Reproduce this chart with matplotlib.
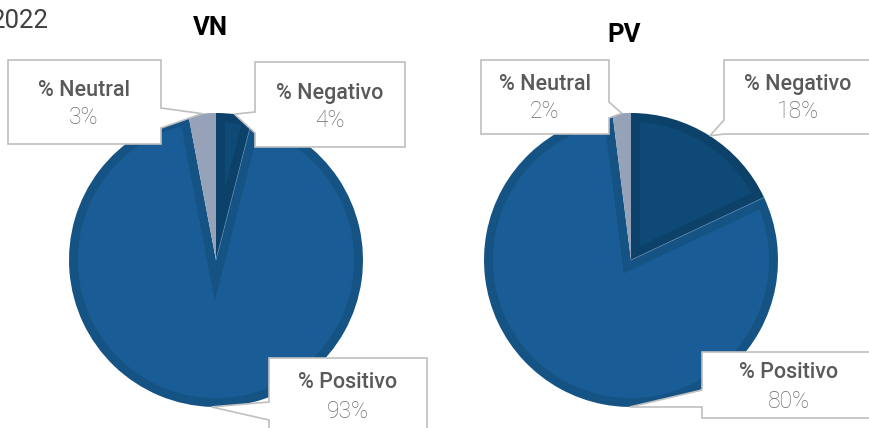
import numpy as np
import matplotlib
matplotlib.use("Agg")
import matplotlib.pyplot as plt
from matplotlib.patches import Polygon

plt.rcParams['font.family'] = ['Roboto', 'DejaVu Sans']

# ---- data ----
categories = ["% Negativo", "% Positivo", "% Neutral"]
vn_values = [4, 93, 3]
pv_values = [18, 80, 2]
titles = ["VN", "PV"]
year_label = "2022"

face_colors = ["#0f4a77", "#1a5d96", "#95a2b7"]
bevel_colors = ["#0c4169", "#155385", "#95a2b7"]

W, H = 870, 428
fig = plt.figure(figsize=(W / 100, H / 100), dpi=100)

R_PX = 147
BEVEL = 9 / 147.0


def make_pie_axes(cx, cy):
    return fig.add_axes([(cx - R_PX) / W, (H - cy - R_PX) / H,
                         2 * R_PX / W, 2 * R_PX / H])


def draw_pie(ax, values):
    wedges, _ = ax.pie(values, colors=bevel_colors, startangle=90,
                       counterclock=False, radius=1.0,
                       wedgeprops=dict(linewidth=0))
    for w, fc in zip(wedges, face_colors):
        t1, t2 = np.radians(w.theta1), np.radians(w.theta2)
        span = t2 - t1
        mid = (t1 + t2) / 2
        apex_d = BEVEL / np.sin(span / 2)
        rin = 1.0 - BEVEL
        if apex_d >= rin:
            continue
        apex = (apex_d * np.cos(mid), apex_d * np.sin(mid))
        da = np.arcsin(BEVEL / rin)
        angs = np.linspace(t1 + da, t2 - da, 200)
        pts = [apex] + [(rin * np.cos(a), rin * np.sin(a)) for a in angs]
        ax.add_patch(Polygon(pts, closed=True, facecolor=fc, edgecolor='none', zorder=3))
    # faint highlight along the Negativo/Positivo boundary
    b = np.radians(wedges[0].theta1)
    ax.plot([0, np.cos(b)], [0, np.sin(b)], color='#5d86ad', lw=0.6, alpha=0.7, zorder=4)
    ax.set_xlim(-1, 1)
    ax.set_ylim(-1, 1)
    ax.set_aspect('equal')
    ax.axis('off')
    return wedges


ax_vn = make_pie_axes(216, 260)
ax_pv = make_pie_axes(631, 260)
w_vn = draw_pie(ax_vn, vn_values)
w_pv = draw_pie(ax_pv, pv_values)

# overlay axes in pixel coords
ov = fig.add_axes([0, 0, 1, 1], zorder=10)
ov.set_xlim(0, W)
ov.set_ylim(H, 0)
ov.axis('off')


def rim_point(ax, wedge, angle=None):
    if angle is None:
        angle = (wedge.theta1 + wedge.theta2) / 2
    a = np.radians(angle)
    disp = ax.transData.transform((np.cos(a), np.sin(a)))
    return ov.transData.inverted().transform(disp)


def callout(box, side, b1, b2, tip, label, value, tx, ly, vy):
    x0, y0, x1, y1 = box
    if side == 'right':
        pts = [(x0, y0), (x1, y0), (x1, b1), tuple(tip), (x1, b2), (x1, y1), (x0, y1)]
    else:
        pts = [(x0, y0), (x1, y0), (x1, y1), (x0, y1), (x0, b2), tuple(tip), (x0, b1)]
    ov.add_patch(Polygon(pts, closed=True, facecolor='white', edgecolor='#bfbfbf',
                         linewidth=1.2, joinstyle='miter', clip_on=False))
    ov.text(tx, ly, label, ha='center', va='baseline', fontsize=15.5,
            fontweight='medium', color='#595959')
    ov.text(tx, vy, value, ha='center', va='baseline', fontsize=16.5,
            fontweight='light', color='#6a6a6a')


# VN callouts
callout((8, 60, 161, 144), 'right', 108, 128, rim_point(ax_vn, w_vn[2]),
        categories[2], f"{vn_values[2]}%", 84, 96, 124)
callout((255, 62, 405, 147), 'left', 112, 133, rim_point(ax_vn, w_vn[0]),
        categories[0], f"{vn_values[0]}%", 330, 99, 127)
callout((269, 358, 427, 434), 'left', 402, 420, rim_point(ax_vn, w_vn[1]),
        categories[1], f"{vn_values[1]}%", 348, 388, 418)

# PV callouts
callout((481, 60, 609, 134), 'right', 102, 118, rim_point(ax_pv, w_pv[2]),
        categories[2], f"{pv_values[2]}%", 545, 90, 118)
callout((724, 60, 885, 134), 'left', 120, 134, rim_point(ax_pv, w_pv[0]),
        categories[0], f"{pv_values[0]}%", 798, 90, 118)
callout((702, 352, 885, 418), 'left', 390, 407, rim_point(ax_pv, w_pv[1], -90.5),
        categories[1], f"{pv_values[1]}%", 789, 378, 408)

# titles
ov.text(210, 35, titles[0], ha='center', va='baseline', fontsize=18.5,
        fontweight='bold', color='black')
ov.text(624, 42, titles[1], ha='center', va='baseline', fontsize=18.5,
        fontweight='bold', color='black')
ov.text(49, 28, year_label, ha='right', va='baseline', fontsize=18.5,
        color='#404040', clip_on=False)

fig.savefig("out.png", dpi=100)
